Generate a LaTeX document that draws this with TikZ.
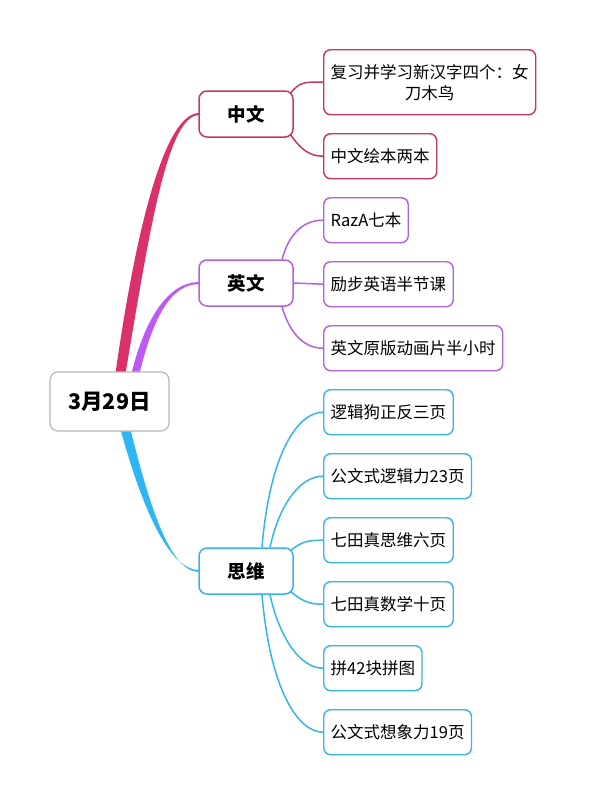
\documentclass[tikz,border=0pt]{standalone}
\usepackage{fontspec}
\setmainfont{Noto Sans CJK SC}
\usetikzlibrary{positioning,calc,backgrounds}

\definecolor{zhred}{HTML}{C8356B}
\definecolor{zhtrunk}{HTML}{DA306B}
\definecolor{enpurple}{HTML}{B462DC}
\definecolor{entrunk}{HTML}{BE5AF3}
\definecolor{swblue}{HTML}{38B5E6}
\definecolor{swtrunk}{HTML}{2CB6F4}

\begin{document}
\begin{tikzpicture}[
  x=1pt, y=-1pt,
  rootbox/.style={draw=black!28, line width=1.2pt, rounded corners=8pt, fill=white, minimum width=119pt, minimum height=59pt, font=\fontsize{21.5}{25}\selectfont\bfseries},
  topic/.style={draw=#1, line width=1.5pt, rounded corners=8pt, fill=white, minimum width=94pt, minimum height=46pt, font=\fontsize{18.5}{22}\selectfont\bfseries},
  leaf/.style={draw=#1, line width=1.4pt, rounded corners=7pt, fill=white, minimum height=45pt, inner xsep=7pt, align=center, font=\fontsize{16.5}{21}\selectfont},
  twig/.style={draw=#1, line width=1.5pt}
]
\useasboundingbox (0,0) rectangle (589,803);

\node[rootbox] (root) at (109.5,401.5) {3月29日};
\node[topic=zhred] (zw) at (246,114) {中文};
\node[topic=enpurple] (en) at (246,283) {英文};
\node[topic=swblue] (sw) at (246,571) {思维};

% leaves, one under the other
\node[leaf=zhred, minimum height=65pt, anchor=north west] (zw1) at (323,49) {复习并学习新汉字四个：女\\刀木鸟};
\node[leaf=zhred, below=17.6pt of zw1.south west, anchor=north west] (zw2) {中文绘本两本};
\node[leaf=enpurple, below=17.6pt of zw2.south west, anchor=north west] (en1) {RazA七本};
\node[leaf=enpurple, below=17.6pt of en1.south west, anchor=north west] (en2) {励步英语半节课};
\node[leaf=enpurple, below=17.6pt of en2.south west, anchor=north west] (en3) {英文原版动画片半小时};
\node[leaf=swblue, below=17.6pt of en3.south west, anchor=north west] (sw1) {逻辑狗正反三页};
\node[leaf=swblue, below=17.6pt of sw1.south west, anchor=north west] (sw2) {公文式逻辑力23页};
\node[leaf=swblue, below=17.6pt of sw2.south west, anchor=north west] (sw3) {七田真思维六页};
\node[leaf=swblue, below=17.6pt of sw3.south west, anchor=north west] (sw4) {七田真数学十页};
\node[leaf=swblue, below=17.6pt of sw4.south west, anchor=north west] (sw5) {拼42块拼图};
\node[leaf=swblue, below=17.6pt of sw5.south west, anchor=north west] (sw6) {公文式想象力19页};

\begin{scope}[on background layer]
\fill[white] (0,0) rectangle (589,803);
% tapered trunks
\fill[zhtrunk] ($(root.north)+(6,2)$) .. controls +(20,-142) and +(-35,0) .. ($(zw.west)+(1,-1)$)
  -- ($(zw.west)+(1,1)$) .. controls +(-32,0) and +(24,-142) .. ($(root.north)+(16,2)$) -- cycle;
\fill[entrunk] ($(root.north)+(22,2)$) .. controls +(14,-57) and +(-30,0) .. ($(en.west)+(1,-1)$)
  -- ($(en.west)+(1,1)$) .. controls +(-28,0) and +(14,-57) .. ($(root.north)+(30,2)$) -- cycle;
\fill[swtrunk] ($(root.south)+(11,-2)$) .. controls +(20,72) and +(-32,0) .. ($(sw.west)+(1,-1)$)
  -- ($(sw.west)+(1,1)$) .. controls +(-30,0) and +(18,72) .. ($(root.south)+(21,-2)$) -- cycle;

% twigs
\draw[twig=zhred] ($(zw.north east)+(-4,4)$) .. controls +(10,-14) and +(-15,0) .. (zw1.west);
\draw[twig=zhred] ($(zw.south east)+(-4,-4)$) .. controls +(10,14) and +(-15,0) .. (zw2.west);

\draw[twig=enpurple] ($(en.north)+(36,0)$) .. controls +(8,-28) and +(-18,0) .. (en1.west);
\draw[twig=enpurple] (en.east) -- (en2.west);
\draw[twig=enpurple] ($(en.south)+(36,0)$) .. controls +(8,28) and +(-18,0) .. (en3.west);

\draw[twig=swblue] ($(sw.north)+(16,0)$) .. controls +(8,-95) and +(-25,0) .. (sw1.west);
\draw[twig=swblue] ($(sw.north)+(24,0)$) .. controls +(10,-45) and +(-22,0) .. (sw2.west);
\draw[twig=swblue] ($(sw.north east)+(-4,4)$) .. controls +(12,-10) and +(-15,0) .. (sw3.west);
\draw[twig=swblue] ($(sw.south east)+(-4,-4)$) .. controls +(12,10) and +(-15,0) .. (sw4.west);
\draw[twig=swblue] ($(sw.south)+(24,0)$) .. controls +(10,45) and +(-22,0) .. (sw5.west);
\draw[twig=swblue] ($(sw.south)+(16,0)$) .. controls +(8,95) and +(-25,0) .. (sw6.west);
\end{scope}

\end{tikzpicture}
\end{document}
